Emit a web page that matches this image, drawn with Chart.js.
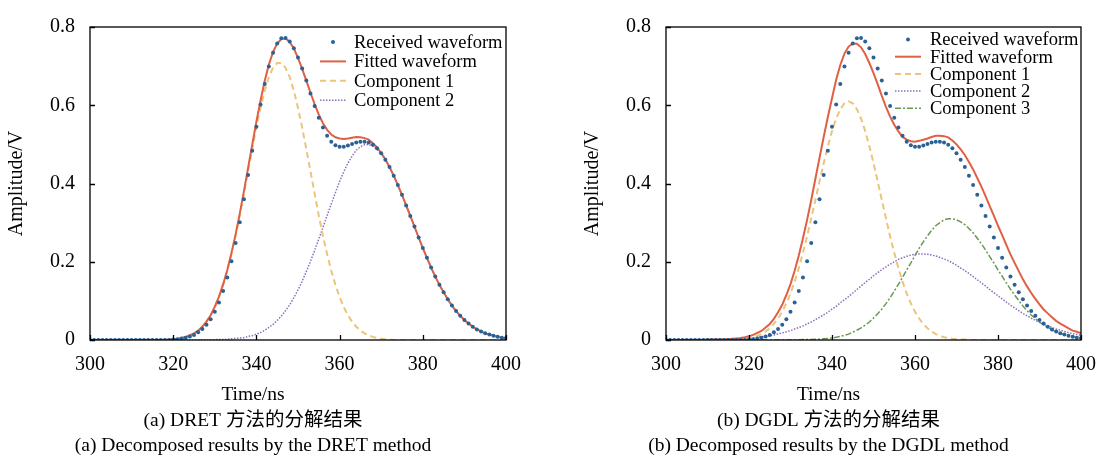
<!DOCTYPE html>
<html>
<head>
<meta charset="utf-8">
<script src="https://cdn.jsdelivr.net/npm/chart.js@4.4.1/dist/chart.umd.min.js"></script>
<style>
html,body{margin:0;padding:0;background:#fff;width:1098px;height:463px;overflow:hidden;}
#wrap{position:relative;width:1098px;height:463px;overflow:hidden;}
#c1{position:absolute;left:0;top:0;}
#c2{position:absolute;left:576px;top:0;}
</style>
</head>
<body>
<div id="wrap">
<canvas id="c1" width="568" height="463"></canvas>
<canvas id="c2" width="564" height="463"></canvas>
</div>
<script>
// ---------------- data ----------------
const time = [300,301,302,303,304,305,306,307,308,309,310,311,312,313,314,315,316,317,318,319,
320,321,322,323,324,325,326,327,328,329,330,331,332,333,334,335,336,337,338,339,
340,341,342,343,344,345,346,347,348,349,350,351,352,353,354,355,356,357,358,359,
360,361,362,363,364,365,366,367,368,369,370,371,372,373,374,375,376,377,378,379,
380,381,382,383,384,385,386,387,388,389,390,391,392,393,394,395,396,397,398,399,400];

const xTicks = [300,320,340,360,380,400];
const yTicks = [0,0.2,0.4,0.6,0.8];

const receivedWave = [0,0,0,0,0,0,0,0,0,0,0,0,0,0,0,0,0,0,0,0,
0.001,0.002,0.004,0.006,0.009,0.013,0.020,0.028,0.039,0.053,0.072,0.096,0.125,0.160,0.201,0.248,0.301,0.360,0.422,0.484,
0.545,0.602,0.654,0.699,0.734,0.758,0.771,0.772,0.763,0.746,0.722,0.694,0.663,0.630,0.598,0.568,0.543,0.522,0.507,0.498,
0.494,0.494,0.497,0.501,0.505,0.507,0.507,0.505,0.499,0.490,0.477,0.461,0.442,0.420,0.396,0.371,0.344,0.317,0.290,0.262,
0.235,0.210,0.185,0.162,0.141,0.122,0.104,0.088,0.074,0.062,0.051,0.042,0.034,0.027,0.022,0.017,0.014,0.011,0.008,0.006,0.005];

const fittedDRET = [0,0,0,0,0,0,0,0,0,0,0,0,0,0,0,0,0,0,0,0.001,
0.002,0.003,0.005,0.008,0.012,0.017,0.024,0.034,0.047,0.063,0.085,0.111,0.142,0.179,0.222,0.270,0.323,0.380,0.440,0.499,
0.558,0.612,0.662,0.704,0.736,0.758,0.769,0.771,0.762,0.745,0.721,0.693,0.663,0.632,0.603,0.576,0.554,0.537,0.525,0.518,
0.515,0.514,0.515,0.517,0.519,0.518,0.516,0.512,0.503,0.492,0.478,0.462,0.442,0.420,0.396,0.371,0.344,0.317,0.290,0.262,
0.235,0.210,0.185,0.162,0.141,0.122,0.104,0.088,0.074,0.062,0.051,0.042,0.034,0.027,0.022,0.017,0.014,0.011,0.008,0.006,0.005];

const comp1DRET = [0,0,0,0,0,0,0,0,0,0,0,0,0,0,0,0,0,0,0,0.001,
0.002,0.003,0.005,0.008,0.012,0.017,0.024,0.034,0.047,0.063,0.084,0.110,0.141,0.177,0.219,0.266,0.318,0.374,0.431,0.488,
0.543,0.593,0.637,0.672,0.696,0.708,0.708,0.696,0.672,0.637,0.593,0.543,0.488,0.431,0.374,0.318,0.266,0.219,0.177,0.141,
0.110,0.084,0.063,0.047,0.034,0.024,0.017,0.012,0.008,0.005,0.003,0.002,0.001,0,0,0,0,0,0,0,
0,0,0,0,0,0,0,0,0,0,0,0,0,0,0,0,0,0,0,0,0];

const comp2DRET = [0,0,0,0,0,0,0,0,0,0,0,0,0,0,0,0,0,0,0,0,
0,0,0,0,0,0,0,0,0,0,0.001,0.001,0.001,0.002,0.003,0.004,0.005,0.006,0.009,0.011,
0.015,0.019,0.025,0.032,0.040,0.050,0.061,0.075,0.090,0.108,0.128,0.150,0.175,0.201,0.229,0.258,0.288,0.318,0.348,0.377,
0.405,0.430,0.452,0.470,0.485,0.494,0.499,0.500,0.495,0.487,0.475,0.460,0.441,0.420,0.396,0.371,0.344,0.317,0.290,0.262,
0.235,0.210,0.185,0.162,0.141,0.122,0.104,0.088,0.074,0.062,0.051,0.042,0.034,0.027,0.022,0.017,0.014,0.011,0.008,0.006,0.005];

const fittedDGDL = [0,0,0,0,0,0,0,0,0,0,0.001,0.001,0.001,0.001,0.002,0.002,0.003,0.004,0.005,0.007,
0.010,0.013,0.018,0.023,0.032,0.041,0.054,0.071,0.090,0.115,0.143,0.177,0.216,0.260,0.307,0.358,0.412,0.466,0.519,0.570,
0.618,0.665,0.703,0.732,0.750,0.758,0.757,0.748,0.731,0.708,0.682,0.654,0.624,0.596,0.571,0.550,0.533,0.519,0.512,0.508,
0.507,0.509,0.512,0.515,0.519,0.522,0.522,0.521,0.518,0.510,0.500,0.487,0.473,0.455,0.436,0.414,0.392,0.368,0.342,0.318,
0.292,0.268,0.243,0.219,0.197,0.176,0.155,0.137,0.120,0.105,0.091,0.078,0.068,0.058,0.049,0.042,0.036,0.030,0.024,0.021,0.017];

const comp1DGDL = [0,0,0,0,0,0,0,0,0,0,0,0,0,0,0,0,0.001,0.001,0.002,0.003,
0.005,0.007,0.011,0.015,0.022,0.030,0.041,0.055,0.072,0.094,0.119,0.149,0.184,0.223,0.265,0.311,0.358,0.406,0.452,0.495,
0.534,0.566,0.590,0.605,0.610,0.605,0.590,0.566,0.534,0.495,0.452,0.406,0.358,0.311,0.265,0.223,0.184,0.149,0.119,0.094,
0.072,0.055,0.041,0.030,0.022,0.015,0.011,0.007,0.005,0.003,0.002,0.001,0.001,0,0,0,0,0,0,0,
0,0,0,0,0,0,0,0,0,0,0,0,0,0,0,0,0,0,0,0,0];

const comp2DGDL = [0,0,0,0,0,0,0,0,0,0,0.001,0.001,0.001,0.001,0.002,0.002,0.002,0.003,0.003,0.004,
0.005,0.006,0.007,0.008,0.010,0.011,0.013,0.016,0.018,0.021,0.024,0.028,0.032,0.036,0.041,0.046,0.052,0.058,0.064,0.071,
0.079,0.086,0.095,0.103,0.111,0.120,0.129,0.138,0.147,0.155,0.164,0.172,0.180,0.187,0.194,0.200,0.206,0.210,0.214,0.217,
0.219,0.220,0.220,0.219,0.217,0.215,0.211,0.207,0.203,0.197,0.191,0.184,0.177,0.170,0.162,0.154,0.146,0.138,0.129,0.121,
0.113,0.105,0.097,0.089,0.082,0.075,0.068,0.062,0.056,0.050,0.045,0.040,0.036,0.032,0.028,0.025,0.022,0.019,0.016,0.014,0.012];

const comp3DGDL = [0,0,0,0,0,0,0,0,0,0,0,0,0,0,0,0,0,0,0,0,
0,0,0,0,0,0,0,0,0,0,0,0,0,0.001,0.001,0.001,0.002,0.002,0.003,0.004,
0.005,0.007,0.009,0.012,0.015,0.020,0.025,0.031,0.038,0.046,0.056,0.067,0.079,0.093,0.108,0.125,0.142,0.160,0.179,0.197,
0.216,0.234,0.251,0.266,0.280,0.292,0.300,0.307,0.310,0.310,0.307,0.302,0.295,0.285,0.274,0.260,0.246,0.230,0.213,0.197,
0.179,0.163,0.146,0.130,0.115,0.101,0.087,0.075,0.064,0.055,0.046,0.038,0.032,0.026,0.021,0.017,0.014,0.011,0.008,0.007,0.005];

// ---------------- styles ----------------
const SERIF = "'Liberation Serif', 'Times New Roman', 'Noto Sans CJK SC', serif";
const COL = {
  received: 'rgb(42,98,150)',
  fitted: 'rgb(224,96,68)',
  c1: 'rgb(236,196,124)',
  c2: 'rgb(140,112,184)',
  c3: 'rgb(104,152,84)'
};

const pts = arr => time.map((t, i) => ({x: t, y: arr[i]}));

const dsReceived = () => ({label: 'Received waveform', data: pts(receivedWave), showLine: false,
  pointRadius: 2, pointHoverRadius: 2, pointBackgroundColor: COL.received, pointBorderWidth: 0,
  backgroundColor: COL.received, borderColor: COL.received});
const dsLine = (label, arr, color, width, dash) => ({label, data: pts(arr), borderColor: color,
  backgroundColor: color, borderWidth: width, borderDash: dash, pointRadius: 0, tension: 0, fill: false});

const framePlugin = {
  id: 'frameTicks',
  afterDatasetsDraw(chart) {
    const {ctx, chartArea: a, scales} = chart;
    ctx.save();
    ctx.strokeStyle = '#000';
    ctx.lineWidth = 1.3;
    ctx.setLineDash([]);
    ctx.strokeRect(a.left, a.top, a.right - a.left, a.bottom - a.top);
    ctx.beginPath();
    scales.x.ticks.forEach(t => {
      const px = Math.round(scales.x.getPixelForValue(t.value)) + 0.5;
      ctx.moveTo(px, a.bottom); ctx.lineTo(px, a.bottom - 5);
    });
    scales.y.ticks.forEach(t => {
      const py = Math.round(scales.y.getPixelForValue(t.value)) + 0.5;
      ctx.moveTo(a.left, py); ctx.lineTo(a.left + 5, py);
    });
    ctx.stroke();
    ctx.restore();
  }
};

const legendPlugin = {
  id: 'insideLegend',
  afterDraw(chart, args, o) {
    const {ctx} = chart;
    ctx.save();
    ctx.font = o.font;
    ctx.textBaseline = 'middle';
    chart.data.datasets.forEach((ds, i) => {
      const y = o.top + i * o.rowGap;
      const x0 = o.symbolX, x1 = o.symbolX + o.symbolW;
      if (ds.showLine === false) {
        ctx.beginPath();
        ctx.fillStyle = ds.backgroundColor;
        ctx.arc((x0 + x1) / 2, y, ds.pointRadius, 0, Math.PI * 2);
        ctx.fill();
      } else {
        ctx.beginPath();
        ctx.strokeStyle = ds.borderColor;
        ctx.lineWidth = ds.borderWidth;
        ctx.setLineDash(ds.borderDash || []);
        ctx.moveTo(x0, y); ctx.lineTo(x1, y);
        ctx.stroke();
        ctx.setLineDash([]);
      }
      ctx.fillStyle = '#000';
      ctx.fillText(ds.label, x1 + o.gap, y + 1);
    });
    ctx.restore();
  }
};

function makeOptions(captions, padRight, legendOpts) {
  return {
    responsive: false,
    animation: false,
    devicePixelRatio: 1,
    layout: {padding: {top: 22, left: 0, right: padRight, bottom: 0}},
    scales: {
      x: {
        type: 'linear', min: xTicks[0], max: xTicks[xTicks.length - 1],
        afterBuildTicks: s => { s.ticks = xTicks.map(v => ({value: v})); },
        ticks: {font: {size: 20, family: SERIF}, color: '#000', padding: 13, maxRotation: 0, autoSkip: false},
        grid: {display: false, drawTicks: false},
        border: {display: false},
        afterFit: s => { s.height = 42.25; }
      },
      y: {
        type: 'linear', min: yTicks[0], max: yTicks[yTicks.length - 1],
        afterBuildTicks: s => { s.ticks = yTicks.map(v => ({value: v})); },
        ticks: {font: {size: 20, family: SERIF}, color: '#000', padding: 15},
        grid: {display: false, drawTicks: false},
        border: {display: false},
        title: {display: true, text: 'Amplitude/V', color: '#000', font: {size: 20, family: SERIF}, padding: {top: 5, bottom: 0}},
        afterFit: s => { s.width = 90; }
      }
    },
    plugins: {
      legend: {display: false},
      tooltip: {enabled: false},
      title: {
        display: true, position: 'bottom', text: captions, color: '#000',
        font: {size: 19.5, family: SERIF, weight: 'normal', lineHeight: '25.5px'},
        padding: {top: 0, bottom: 4.25}
      },
      insideLegend: legendOpts
    }
  };
}

Chart.defaults.font.family = SERIF;
Chart.defaults.color = '#000';

new Chart(document.getElementById('c1'), {
  type: 'line',
  data: {datasets: [
    dsReceived(),
    dsLine('Fitted waveform', fittedDRET, COL.fitted, 2, []),
    dsLine('Component 1', comp1DRET, COL.c1, 2, [6, 4]),
    dsLine('Component 2', comp2DRET, COL.c2, 1.5, [1.5, 1.5])
  ]},
  options: makeOptions(['Time/ns', '(a) DRET 方法的分解结果', '(a) Decomposed results by the DRET method'], 62,
    {font: "18.5px " + SERIF, top: 42, rowGap: 19.4, symbolX: 320, symbolW: 26, gap: 8}),
  plugins: [framePlugin, legendPlugin]
});

new Chart(document.getElementById('c2'), {
  type: 'line',
  data: {datasets: [
    dsReceived(),
    dsLine('Fitted waveform', fittedDGDL, COL.fitted, 2, []),
    dsLine('Component 1', comp1DGDL, COL.c1, 2, [6, 4]),
    dsLine('Component 2', comp2DGDL, COL.c2, 1.5, [1.5, 1.5]),
    dsLine('Component 3', comp3DGDL, COL.c3, 1.5, [6, 2, 2, 2])
  ]},
  options: makeOptions(['Time/ns', '(b) DGDL 方法的分解结果', '(b) Decomposed results by the DGDL method'], 59,
    {font: "18.5px " + SERIF, top: 39.5, rowGap: 17.2, symbolX: 319, symbolW: 26, gap: 9}),
  plugins: [framePlugin, legendPlugin]
});
</script>
</body>
</html>
